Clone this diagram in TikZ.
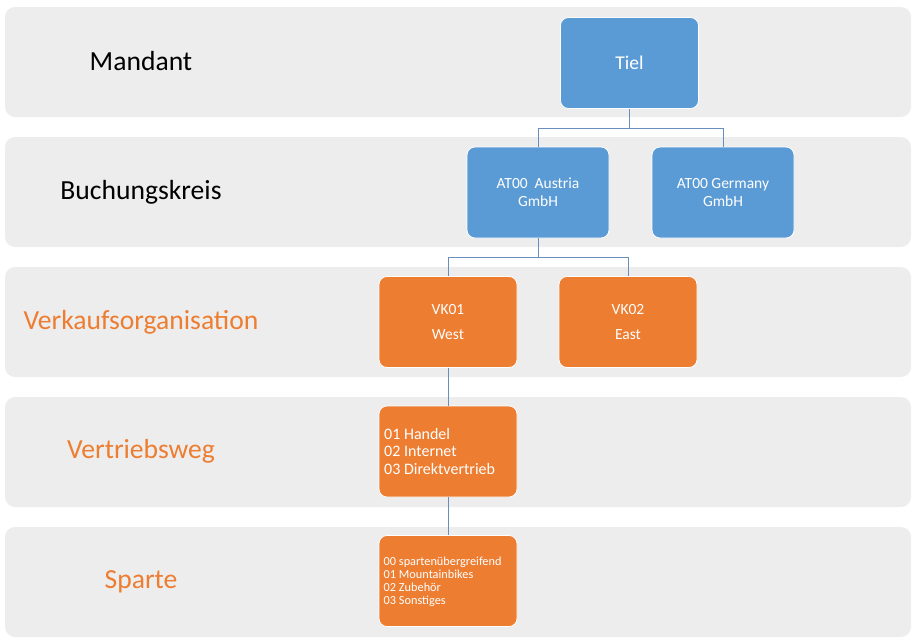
\documentclass[tikz,border=0pt]{standalone}
\usepackage{fontspec}
\setmainfont{Carlito}
\definecolor{band}{HTML}{EDEDED}
\definecolor{blu}{HTML}{5B9BD5}
\definecolor{orn}{HTML}{ED7D31}
\definecolor{conn}{HTML}{6A8EBB}
\tikzset{
  bandbox/.style={fill=band, draw=none, rounded corners=10pt, minimum width=906pt, minimum height=110pt, inner sep=0pt},
  lvl/.style={font=\fontsize{27.6}{30}\selectfont, text=#1, inner sep=0pt, anchor=base},
  bluebox/.style={fill=blu, draw=white, line width=0.8pt, rounded corners=8pt, minimum width=142pt, minimum height=91pt, text=white, align=center, font=\fontsize{15.5}{18}\selectfont, inner sep=0pt},
  orbox/.style={fill=orn, draw=white, line width=0.8pt, rounded corners=8pt, minimum width=138pt, minimum height=91pt, text=white, inner sep=0pt},
  txt/.style={text=white, inner sep=0pt, align=left},
  link/.style={draw=conn, line width=1pt}
}
\begin{document}
\begin{tikzpicture}[x=1pt,y=-1pt]
\useasboundingbox (0,0) rectangle (918,643);
% bands
\node[bandbox] (b1) at (458,62) {};
\node[bandbox] (b2) at (458,192) {};
\node[bandbox] (b3) at (458,322) {};
\node[bandbox] (b4) at (458,452) {};
\node[bandbox] (b5) at (458,582) {};
% level labels
\node[lvl=black] (l1) at (141,70) {Mandant};
\node[lvl=black] (l2) at (141,199.5) {Buchungskreis};
\node[lvl=orn] (l3) at (141,329.5) {Verkaufsorganisation};
\node[lvl=orn] (l4) at (141,458.5) {Vertriebsweg};
\node[lvl=orn] (l5) at (141,588.5) {Sparte};
% boxes
\node[bluebox, minimum width=138pt, font=\fontsize{19.5}{22}\selectfont] (tiel) at (629.5,63) {Tiel};
\node[bluebox] (aut) at (538,192.5) {AT00\ \ Austria\\GmbH};
\node[bluebox] (ger) at (723,192.5) {AT00 Germany\\GmbH};
\node[orbox, align=center, font=\fontsize{15.5}{24.7}\selectfont] (vk1) at (448,322) {VK01\\West};
\node[orbox, align=center, font=\fontsize{15.5}{24.7}\selectfont] (vk2) at (628,322) {VK02\\East};
\node[orbox] (vw) at (448,451.5) {};
\node[txt, anchor=west, font=\fontsize{16}{17.5}\selectfont] (vwt) at (384,451) {01 Handel\\02 Internet\\03 Direktvertrieb};
\node[orbox] (sp) at (448,581) {};
\node[txt, anchor=west, font=\fontsize{12.3}{13}\selectfont] (spt) at (383.5,582) {00 spartenübergreifend\\01 Mountainbikes\\02 Zubehör\\03 Sonstiges};
% connectors
\draw[link] (tiel.south) -- ++(0,20) -| (aut.north);
\draw[link] (tiel.south) -- ++(0,20) -| (ger.north);
\draw[link] (aut.south) -- ++(0,19.5) -| (vk1.north);
\draw[link] (aut.south) -- ++(0,19.5) -| (vk2.north);
\draw[link] (vk1.south) -- (vw.north);
\draw[link] (vw.south) -- (sp.north);
\end{tikzpicture}
\end{document}
